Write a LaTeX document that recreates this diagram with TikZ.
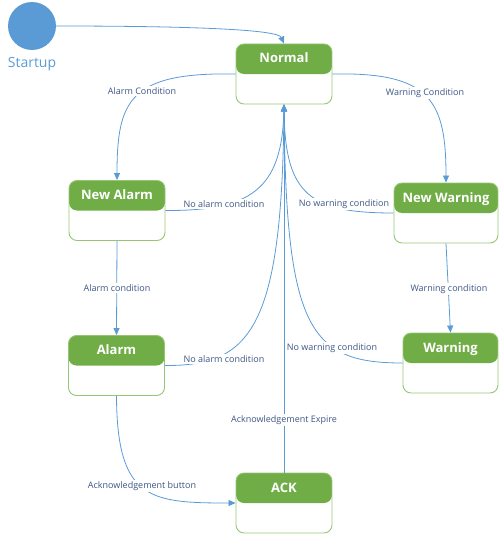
\documentclass[tikz,border=0pt]{standalone}
\usepackage{fontspec}
\setmainfont{Open Sans}
\usetikzlibrary{arrows.meta}
\definecolor{hdrgreen}{RGB}{112,173,71}
\definecolor{boxgreen}{RGB}{150,198,116}
\definecolor{lineblue}{RGB}{91,155,213}
\definecolor{lbltext}{RGB}{62,86,132}
\begin{document}
\begin{tikzpicture}[x=1pt,y=-1pt,
    statebox/.style={draw=boxgreen,line width=0.9pt,rounded corners=8pt,
      minimum width=96pt,minimum height=60pt,inner ysep=0pt,
      text height=19pt,text depth=41pt,text=white,
      font=\fontsize{13}{15}\selectfont\bfseries,
      path picture={\fill[hdrgreen] (path picture bounding box.north west)
        rectangle (path picture bounding box.east);}},
    lbl/.style={fill=white,text=lbltext,font=\fontsize{9}{11}\selectfont,inner sep=1.5pt},
    flow/.style={draw=lineblue,line width=0.8pt,-{Triangle[length=7pt,width=6pt]}}]
  \useasboundingbox (0,0) rectangle (501,535);

  \node[circle,fill=lineblue,minimum size=48pt,inner sep=0pt] (startup) at (32,26) {};
  \node[text=lineblue,font=\fontsize{14}{16}\selectfont] (startuplbl) at (32,64) {Startup};

  \begin{scope}[every node/.style={statebox}]
      \node (normal) at (284,74) {Normal};
      \node (newalarm) at (117,210.5) {New Alarm};
      \node[minimum width=104pt] (newwarn) at (446,213) {New Warning};
      \node (alarm) at (116.5,365.5) {Alarm};
      \node[minimum width=95pt] (warn) at (450.5,363) {Warning};
      \node (ack) at (284,503) {ACK};
  \end{scope}

  \begin{scope}[every path/.style={flow}]
      \path (startup.east) .. controls (200,26) and (278,30) .. (normal.north);
      \path (normal.west) .. controls (130,72) and (117,100) .. (newalarm.north);
      \path (normal.east) .. controls (430,72) and (446,100) .. (newwarn.north);
      \path (newalarm.south) -- (alarm.north);
      \path (newwarn.south) -- (warn.north);
      \path (newalarm.east) .. controls (250,211) and (282,190) .. (normal.south);
      \path (alarm.east) .. controls (250,366) and (282,330) .. (normal.south);
      \path (newwarn.west) .. controls (310,213) and (285,195) .. (normal.south);
      \path (warn.west) .. controls (310,363) and (286,330) .. (normal.south);
      \path (ack.north) -- (normal.south);
      \path (alarm.south) .. controls (117,500) and (150,503) .. (ack.west);
  \end{scope}

  \begin{scope}[every node/.style={lbl}]
      \node (lalarmc) at (142,91) {Alarm Condition};
      \node (lwarnc) at (425,93) {Warning Condition};
      \node (lalarm) at (117,288) {Alarm condition};
      \node (lwarn) at (449,289) {Warning condition};
      \node (lnoal1) at (224,204) {No alarm condition};
      \node (lnowa1) at (344,204) {No warning condition};
      \node (lnoal2) at (224,359) {No alarm condition};
      \node (lnowa2) at (332,348) {No warning condition};
      \node (lexpire) at (284,420) {Acknowledgement Expire};
      \node (lbutton) at (142,486) {Acknowledgement button};
  \end{scope}
\end{tikzpicture}
\end{document}
